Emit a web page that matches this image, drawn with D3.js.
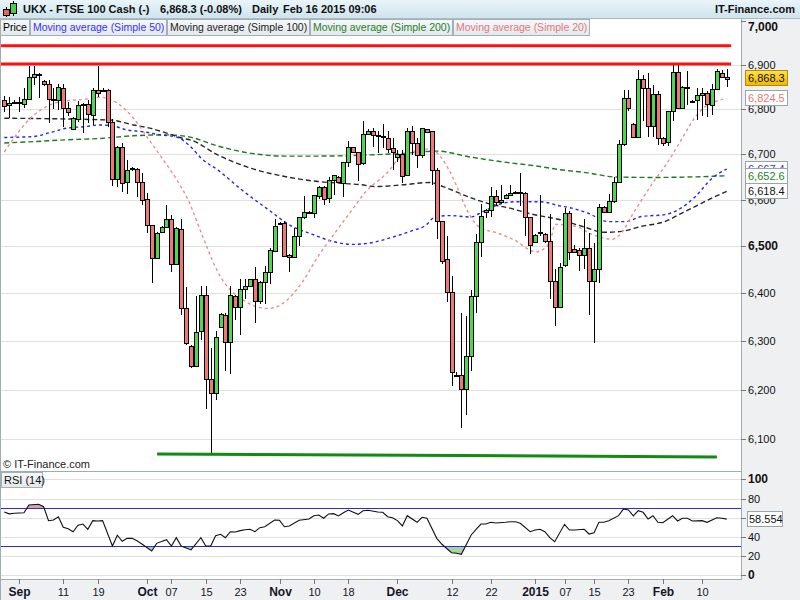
<!DOCTYPE html>
<html><head><meta charset="utf-8">
<script src="https://cdn.jsdelivr.net/npm/d3@7"></script>
<style>body{margin:0;background:#fff;font-family:"Liberation Sans",Arial,sans-serif}</style>
</head><body><svg id="c" width="800" height="600"></svg>
<script>
// ---- DATA ----
const openP  = [6820,6809,6815,6814,6813,6824,6872,6878,6864,6858,6822,6820,6849,6802,6755,6778,6810,6813,6787,6843,6842,6843,6772,6646,6716,6638,6668,6668,6638,6601,6546,6475,6530,6541,6559,6463,6537,6369,6289,6248,6320,6397,6222,6193,6330,6355,6298,6395,6371,6410,6416,6430,6383,6423,6444,6490,6548,6550,6481,6477,6521,6563,6572,6571,6608,6629,6605,6643,6651,6637,6682,6715,6704,6680,6744,6751,6742,6740,6735,6713,6693,6700,6654,6751,6724,6698,6755,6751,6665,6554,6472,6403,6230,6229,6202,6269,6395,6510,6573,6577,6609,6595,6604,6611,6617,6617,6616,6562,6509,6528,6527,6511,6425,6371,6460,6571,6495,6491,6481,6497,6426,6451,6584,6573,6598,6638,6722,6826,6767,6739,6869,6849,6762,6835,6737,6727,6796,6885,6804,6851,6818,6820,6831,6836,6810,6845,6881,6872];
const highP  = [6830,6828,6820,6828,6849,6897,6897,6881,6867,6867,6847,6858,6858,6817,6782,6819,6814,6821,6847,6897,6847,6845,6778,6718,6725,6687,6673,6669,6659,6616,6546,6530,6544,6588,6568,6541,6558,6413,6292,6394,6415,6415,6286,6321,6359,6359,6415,6397,6431,6430,6431,6455,6426,6458,6496,6559,6552,6554,6483,6540,6563,6608,6575,6610,6630,6630,6651,6655,6652,6682,6729,6716,6704,6774,6755,6759,6752,6767,6752,6737,6709,6709,6759,6763,6737,6759,6756,6751,6669,6554,6522,6437,6236,6359,6353,6407,6527,6592,6580,6628,6622,6633,6613,6633,6619,6658,6617,6563,6527,6610,6529,6570,6451,6465,6582,6575,6502,6497,6558,6529,6507,6591,6586,6613,6651,6732,6843,6843,6769,6888,6877,6882,6855,6841,6739,6796,6900,6900,6852,6886,6820,6847,6849,6841,6858,6890,6888,6890];
const lowP   = [6795,6780,6812,6795,6803,6822,6854,6826,6853,6770,6801,6798,6761,6785,6754,6771,6746,6769,6765,6828,6839,6760,6631,6629,6618,6613,6664,6607,6588,6529,6421,6473,6529,6541,6446,6460,6355,6291,6244,6246,6302,6160,6072,6179,6327,6239,6232,6343,6312,6389,6414,6338,6378,6378,6420,6488,6545,6477,6444,6476,6500,6559,6570,6560,6603,6588,6594,6610,6636,6607,6673,6702,6641,6676,6742,6717,6702,6713,6702,6665,6684,6636,6652,6698,6669,6691,6748,6633,6515,6462,6382,6207,6225,6122,6148,6238,6359,6476,6560,6563,6586,6592,6602,6608,6615,6586,6523,6484,6506,6522,6508,6389,6331,6370,6456,6471,6487,6447,6451,6354,6296,6421,6572,6571,6594,6636,6718,6797,6737,6738,6773,6739,6739,6720,6718,6718,6773,6802,6802,6810,6815,6775,6785,6782,6787,6843,6870,6851];
const closeP = [6808,6814,6817,6816,6824,6872,6879,6880,6858,6824,6824,6851,6802,6794,6780,6809,6812,6790,6843,6836,6844,6772,6646,6716,6636,6665,6670,6638,6600,6546,6475,6529,6542,6559,6463,6539,6369,6296,6248,6319,6397,6222,6194,6309,6356,6298,6397,6371,6410,6416,6430,6383,6423,6444,6491,6544,6551,6480,6477,6521,6562,6573,6573,6610,6629,6603,6643,6655,6638,6682,6715,6704,6678,6744,6751,6743,6740,6738,6711,6704,6700,6653,6751,6724,6698,6759,6749,6665,6554,6469,6403,6236,6228,6201,6269,6395,6510,6566,6577,6609,6595,6599,6611,6615,6618,6616,6562,6502,6525,6530,6511,6427,6371,6456,6571,6488,6488,6481,6497,6426,6451,6584,6573,6598,6638,6722,6826,6804,6739,6869,6849,6762,6835,6737,6725,6796,6885,6804,6851,6847,6817,6831,6836,6811,6845,6887,6872,6868.3];

const ma20  = [[0,6705],[5.8,6785],[9.3,6810],[12.7,6819],[16.1,6822],[19.5,6827],[22.5,6817],[26.3,6780],[29,6739],[32.4,6687],[35.1,6644],[37.4,6600],[40.4,6520],[43.5,6444],[49,6383],[53.7,6368],[57.1,6382],[60.6,6423],[63.9,6479],[67.3,6529],[70.8,6579],[73.4,6616],[77.8,6658],[81.1,6698],[84.6,6709],[86.6,6712],[89.3,6687],[92.1,6629],[94.1,6579],[96.8,6540],[100.2,6529],[103.5,6515],[108.3,6488],[111,6508],[112.1,6547],[116.1,6543],[120.2,6523],[123.7,6515],[125.7,6530],[127.7,6566],[129.7,6600],[132.4,6644],[134.4,6673],[136.5,6709],[138.5,6746],[140.6,6783],[142.6,6806],[144.6,6817],[147,6824.5]];
const ma50  = [[0,6737],[3.2,6738],[5.8,6739],[9.3,6748],[12.7,6758],[16.1,6761],[19.5,6765],[22.1,6763],[24.9,6754],[28.2,6750],[31.7,6743],[35.1,6738],[37.8,6718],[40.2,6690],[43.5,6665],[48.3,6622],[53.7,6579],[58.5,6543],[62.6,6526],[66.6,6511],[70.7,6504],[75.4,6509],[78.5,6518],[82.6,6532],[86,6547],[87.6,6563],[90.7,6566],[94.8,6563],[97.5,6575],[101.5,6593],[104.3,6596],[109,6596],[113.1,6587],[115.5,6582],[118.8,6571],[122.9,6553],[126.3,6553],[129.7,6564],[134.4,6568],[137.2,6579],[140.6,6607],[144,6647],[147,6667.4]];
const ma100 = [[0,6780],[21.5,6776],[26.3,6765],[29.6,6758],[33,6747],[36.4,6735],[37.8,6732],[43.5,6698],[50.3,6669],[57.1,6651],[63.9,6640],[68.7,6636],[72.7,6633],[75.4,6629],[81.2,6633],[86.6,6638],[89.3,6629],[93.4,6611],[98.2,6593],[102.9,6582],[107,6570],[113.1,6557],[117.5,6543],[122.2,6530],[125.6,6532],[129.7,6543],[134.4,6553],[137.8,6571],[141.2,6589],[144.6,6607],[147,6618.4]];
const ma200 = [[0,6725],[5.9,6728],[12.7,6732],[19.5,6735],[26.3,6741],[33,6743],[37.8,6738],[43.5,6718],[50.3,6702],[57.1,6696],[63.9,6696],[75.4,6699],[81.2,6702],[88,6707],[94.8,6694],[101.5,6683],[108.3,6674],[113.1,6666],[118.8,6659],[124.3,6650],[132.4,6649],[139.2,6650],[147,6652.6]];

const rsiPts = [[0,66],[1,64],[2,64.6],[4,65.2],[5,73.2],[7,74],[8,71.5],[9,56.9],[10,57.6],[11,61],[12,50],[13,48.5],[14,45.4],[15,52.1],[16,53.4],[17,47.9],[18,56.9],[19,56.6],[20,56.9],[22,30.5],[23,41.7],[24,35.4],[25,38.5],[26,38.5],[27,36],[28,32.6],[30,25.3],[31,33.3],[33,37.1],[34,30.5],[35,39.2],[36,30.5],[38,26.4],[40,39.2],[41,30.5],[42,30.5],[43,41.3],[44,42.7],[45,39.2],[46,45.4],[47,45.1],[48,46.5],[49,47.5],[50,47.9],[51,45.4],[52,49.6],[53,50.6],[55,57.6],[56,57.3],[57,50.6],[58,51.4],[60,57.3],[62,58.6],[63,62.1],[64,62.8],[65,59.4],[66,63.9],[67,64.2],[68,61.8],[69,65.2],[70,68],[72,63.5],[73,67.3],[74,67.7],[76,65.9],[77,65.6],[78,61],[79,60],[80,57],[81,51.4],[82,62.1],[84,55.2],[85,60.4],[86,59.4],[88,38.5],[89,32.6],[91,23.5],[92,22.9],[93,21.9],[95,42],[96,47.9],[97,53.4],[98,53.4],[99,55.2],[100,54.5],[102,55.2],[103,55.8],[104,55.8],[105,54.2],[107,45.4],[108,47.2],[109,47.9],[110,45.4],[111,39.2],[112,35],[114,53.1],[115,47.2],[116,47.2],[118,47.9],[119,43],[120,44.4],[121,55.2],[122,55.2],[123,56.9],[125,62.1],[126,69.1],[127,68],[128,61.8],[129,67.3],[130,65.6],[131,58.6],[132,62.1],[133,55.2],[134,54.8],[136,62.1],[137,56.6],[138,59.4],[139,59.4],[140,56.6],[142,56.9],[143,55.2],[145,60],[146,59.4],[147,58.554]];

const priceTicks = [6100,6200,6300,6400,6500,6600,6700,6800,6900,7000];
const rsiTicks   = [0,20,40,60,80,100];
const xTickIdx   = [3,12,19,29,34,41,48,56,63,70,80,91,99,108,114,120,127,134,142];
const xTickLabels= ["Sep","11","19","Oct","07","15","23","Nov","10","18","Dec","12","22","2015","07","15","23","Feb","10"];
const resistanceLevels = [6944,6902];
const resistanceSpan = [-0.9,147.9];
const supportLine = [[31.1,6070],[145,6064]];
const legendItems = ["Price","Moving average (Simple 50)","Moving average (Simple 100)","Moving average (Simple 200)","Moving average (Simple 20)"];
const legendColors = ["#000","#3333ff","#222","#1f7f1f","#e07a7a"];

// ---- DRAWING ----
const svg = d3.select("#c");
const W = 800, H = 600, plotR = 741;
const x  = d3.scaleLinear().domain([0,147]).range([4.3,726.7]);
const y  = d3.scaleLog().domain([6100,6800]).range([439,109.3]);
const yR = d3.scaleLinear().domain([0,100]).range([575.3,479.3]);
const fmt = d3.format(",");
const fmt1 = d3.format(",.1f");

const defs = svg.append("defs");
const hg = defs.append("linearGradient").attr("id","hdr").attr("x1",0).attr("y1",0).attr("x2",0).attr("y2",1);
hg.append("stop").attr("offset","0").attr("stop-color","#e9f5fa");
hg.append("stop").attr("offset","1").attr("stop-color","#cfe4ec");
const lg = defs.append("linearGradient").attr("id","leg").attr("x1",0).attr("y1",0).attr("x2",0).attr("y2",1);
lg.append("stop").attr("offset","0").attr("stop-color","#f6f8fa");
lg.append("stop").attr("offset","1").attr("stop-color","#e3e8ec");
const gg = defs.append("linearGradient").attr("id","gold").attr("x1",0).attr("y1",0).attr("x2",0).attr("y2",1);
gg.append("stop").attr("offset","0").attr("stop-color","#ffe14a");
gg.append("stop").attr("offset","1").attr("stop-color","#f2b600");
defs.append("clipPath").attr("id","pclip").append("rect").attr("x",1).attr("y",18).attr("width",plotR-1).attr("height",453);
defs.append("clipPath").attr("id","obClip").append("rect").attr("x",0).attr("y",470).attr("width",plotR).attr("height",yR(70)-470);
defs.append("clipPath").attr("id","osClip").append("rect").attr("x",0).attr("y",yR(30)).attr("width",plotR).attr("height",578-yR(30));

// backgrounds
svg.append("rect").attr("width",W).attr("height",H).attr("fill","#fff");
svg.append("rect").attr("x",plotR).attr("y",18).attr("width",W-plotR).attr("height",H-18).attr("fill","#eff0f2");
svg.append("rect").attr("x",0).attr("y",579).attr("width",W).attr("height",21).attr("fill","#eff0f2");

// gridlines price
svg.append("g").selectAll("line").data(priceTicks.filter(v=>v<7000)).join("line")
  .attr("x1",1).attr("x2",plotR).attr("y1",d=>Math.round(y(d))+0.5).attr("y2",d=>Math.round(y(d))+0.5)
  .attr("stroke","#e0e0e0");
// gridlines rsi
svg.append("g").selectAll("line").data(rsiTicks).join("line")
  .attr("x1",1).attr("x2",plotR).attr("y1",d=>Math.round(yR(d))+0.5).attr("y2",d=>Math.round(yR(d))+0.5)
  .attr("stroke","#e0e0e0");

// price panel content
const pg = svg.append("g").attr("clip-path","url(#pclip)");
const maDefs = [
  {d:ma200,c:"#1f7a1f",dash:"5,3"},
  {d:ma100,c:"#262626",dash:"5,3"},
  {d:ma50,c:"#2424ee",dash:"3,3"},
  {d:ma20,c:"#ee8c8c",dash:"3,3"}
];
const line = d3.line().x(d=>x(d[0])).y(d=>y(d[1])).curve(d3.curveMonotoneX);
pg.selectAll("path.ma").data(maDefs).join("path").attr("class","ma")
  .attr("d",d=>line(d.d)).attr("fill","none").attr("stroke",d=>d.c)
  .attr("stroke-width",1.4).attr("stroke-dasharray",d=>d.dash);

const candles = openP.map((o,i)=>({i,o,h:highP[i],l:lowP[i],c:closeP[i]}));
pg.selectAll("line.wick").data(candles).join("line").attr("class","wick")
  .attr("x1",d=>Math.round(x(d.i))+0.5).attr("x2",d=>Math.round(x(d.i))+0.5)
  .attr("y1",d=>Math.round(y(d.h))).attr("y2",d=>Math.round(y(d.l)))
  .attr("stroke","#000").attr("stroke-width",1).attr("shape-rendering","crispEdges");
pg.selectAll("rect.body").data(candles).join("rect").attr("class","body")
  .attr("x",d=>Math.round(x(d.i))-1.5).attr("width",4)
  .attr("y",d=>Math.round(y(Math.max(d.o,d.c)))+0.5)
  .attr("height",d=>Math.max(1,Math.round(y(Math.min(d.o,d.c)))-Math.round(y(Math.max(d.o,d.c)))))
  .attr("fill",d=>d.c>=d.o?"#52d652":"#ec7878").attr("stroke","#000").attr("stroke-width",1)
  .attr("shape-rendering","crispEdges");

// resistance & support
pg.selectAll("line.res").data(resistanceLevels).join("line").attr("class","res")
  .attr("x1",x(resistanceSpan[0])).attr("x2",x(resistanceSpan[1]))
  .attr("y1",d=>y(d)).attr("y2",d=>y(d)).attr("stroke","#ff1010").attr("stroke-width",3);
pg.append("line").attr("x1",x(supportLine[0][0])).attr("y1",y(supportLine[0][1]))
  .attr("x2",x(supportLine[1][0])).attr("y2",y(supportLine[1][1]))
  .attr("stroke","#138a13").attr("stroke-width",3);

svg.append("text").attr("x",3).attr("y",468).attr("font-size",11).attr("fill","#222").text("© IT-Finance.com");

// RSI
const rline = d3.line().x(d=>x(d[0])).y(d=>yR(d[1]));
svg.append("path").attr("clip-path","url(#obClip)")
  .attr("d",d3.area().x(d=>x(d[0])).y0(yR(70)).y1(d=>yR(d[1]))(rsiPts)).attr("fill","#d9a4a4");
svg.append("path").attr("clip-path","url(#osClip)")
  .attr("d",d3.area().x(d=>x(d[0])).y0(yR(30)).y1(d=>yR(d[1]))(rsiPts)).attr("fill","#a8d2a0");
[70,30].forEach(v=>svg.append("line").attr("x1",1).attr("x2",plotR).attr("y1",Math.round(yR(v))+0.5).attr("y2",Math.round(yR(v))+0.5).attr("stroke","#2a2ae0"));
svg.append("path").attr("d",rline(rsiPts)).attr("fill","none").attr("stroke","#111").attr("stroke-width",1.1);

// borders
const bc = "#9eacb5";
svg.append("line").attr("x1",0.5).attr("x2",0.5).attr("y1",18).attr("y2",600).attr("stroke",bc);
svg.append("line").attr("x1",plotR+0.5).attr("x2",plotR+0.5).attr("y1",18).attr("y2",579).attr("stroke",bc);
svg.append("line").attr("x1",0).attr("x2",plotR+1).attr("y1",471.5).attr("y2",471.5).attr("stroke",bc);
svg.append("line").attr("x1",0).attr("x2",plotR+1).attr("y1",579.5).attr("y2",579.5).attr("stroke",bc);

// header
svg.append("rect").attr("x",0).attr("y",0).attr("width",W).attr("height",18).attr("fill","url(#hdr)");
svg.append("line").attr("x1",0).attr("x2",W).attr("y1",18.5).attr("y2",18.5).attr("stroke","#a9bcc5");
const ic = svg.append("g");
ic.append("line").attr("x1",6.5).attr("x2",6.5).attr("y1",7).attr("y2",17).attr("stroke","#000");
ic.append("rect").attr("x",3.5).attr("y",9.5).attr("width",6).attr("height",6).attr("fill","#ec6060").attr("stroke","#000");
ic.append("line").attr("x1",13.5).attr("x2",13.5).attr("y1",1).attr("y2",16).attr("stroke","#000");
ic.append("rect").attr("x",10.5).attr("y",3.5).attr("width",6).attr("height",10).attr("fill","#45d045").attr("stroke","#000");
const ht = svg.append("g").attr("font-size",11).attr("font-weight","bold").attr("fill","#111");
ht.append("text").attr("x",23).attr("y",13).text("UKX - FTSE 100 Cash (-)");
ht.append("text").attr("x",160).attr("y",13).text(fmt1(closeP[closeP.length-1])+" (-0.08%)");
ht.append("text").attr("x",252).attr("y",13).text("Daily");
ht.append("text").attr("x",283).attr("y",13).text("Feb 16 2015 09:06");
ht.append("text").attr("x",795).attr("y",13).attr("text-anchor","end").text("IT-Finance.com");

// legend
let lx = 0.5;
const lgG = svg.append("g").attr("font-size",10.5);
legendItems.forEach((t,k)=>{
  const tx = lgG.append("text").attr("x",lx+2.5).attr("y",31).attr("fill",legendColors[k]).text(t);
  const w = Math.round(tx.node().getComputedTextLength()+5);
  lgG.insert("rect","text").attr("x",lx).attr("y",19.5).attr("width",w).attr("height",16).attr("fill","url(#leg)").attr("stroke","#a4b0b8");
  lx += w+1;
});

// right price axis
const ax = svg.append("g").attr("font-size",11).attr("fill","#111");
priceTicks.forEach(v=>{
  const yy = y(v);
  if (yy > 20) ax.append("line").attr("x1",plotR).attr("x2",plotR+5).attr("y1",Math.round(yy)+0.5).attr("y2",Math.round(yy)+0.5).attr("stroke","#777");
  ax.append("text").attr("x",748).attr("y",Math.max(yy,27)+4).attr("font-weight",(v%500===0)?"bold":"normal")
    .attr("font-size",(v%500===0)?12:11).text(fmt(v));
});
rsiTicks.forEach(v=>{
  const yy = yR(v);
  ax.append("line").attr("x1",plotR).attr("x2",plotR+5).attr("y1",Math.round(yy)+0.5).attr("y2",Math.round(yy)+0.5).attr("stroke","#777");
  ax.append("text").attr("x",748).attr("y",yy+4).attr("font-weight",(v%100===0)?"bold":"normal")
    .attr("font-size",(v%100===0)?12:11).text(v);
});

// value boxes
const lastVals = [
  {v:ma50[ma50.length-1][1],c:"#3333ff"},
  {v:ma200[ma200.length-1][1],c:"#1f7f1f"},
  {v:ma100[ma100.length-1][1],c:"#111"},
  {v:ma20[ma20.length-1][1],c:"#e07a7a"},
  {v:closeP[closeP.length-1],c:"#111",gold:true}
];
lastVals.forEach(b=>{
  const yy = Math.round(y(b.v)) - (b.gold?1:0);
  svg.append("rect").attr("x",745.5).attr("y",yy-7.5).attr("width",42).attr("height",15)
    .attr("fill",b.gold?"url(#gold)":"#fff").attr("stroke",b.gold?"#b88a00":"#9aa4ac");
  svg.append("text").attr("x",748).attr("y",yy+4).attr("font-size",11).attr("fill",b.c).text(fmt1(b.v));
});
const rl = rsiPts[rsiPts.length-1][1];
svg.append("rect").attr("x",747.5).attr("y",Math.round(yR(rl))-7.5).attr("width",35).attr("height",15).attr("fill","#fff").attr("stroke","#9aa4ac");
svg.append("text").attr("x",749).attr("y",Math.round(yR(rl))+4).attr("font-size",11).attr("fill","#111").text(d3.format(".3f")(rl));

// RSI label
svg.append("rect").attr("x",1.5).attr("y",472.5).attr("width",41).attr("height",15).attr("fill","url(#leg)").attr("stroke","#a4b0b8");
svg.append("text").attr("x",4).attr("y",484).attr("font-size",11).attr("fill","#111").text("RSI (14)");

// x axis
const xg = svg.append("g").attr("fill","#15152a");
xTickIdx.forEach((ix,k)=>{
  const xx = Math.round(x(ix))+0.5;
  xg.append("line").attr("x1",xx).attr("x2",xx).attr("y1",579).attr("y2",584).attr("stroke","#777");
  const isDay = /^\d\d$/.test(xTickLabels[k]);
  xg.append("text").attr("x",xx).attr("y",596).attr("text-anchor","middle")
    .attr("font-size",isDay?11:12).attr("font-weight",isDay?"normal":"bold").text(xTickLabels[k]);
});
</script></body></html>
